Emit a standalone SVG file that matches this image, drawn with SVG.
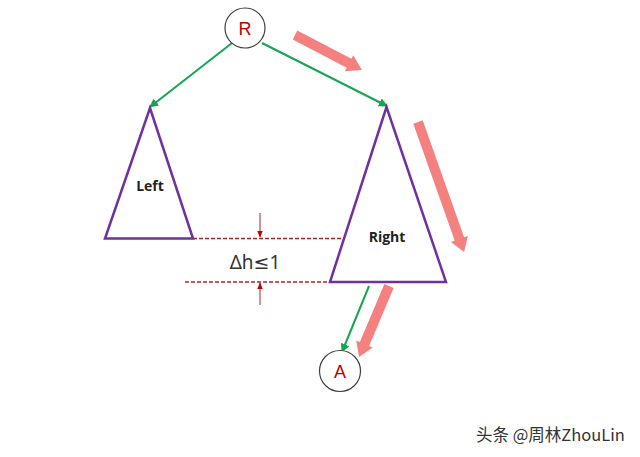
<svg xmlns="http://www.w3.org/2000/svg" width="640" height="457" viewBox="0 0 640 457">
<style>
.node-circle{fill:#fff;stroke:#404040;stroke-width:1.2}
.node-label{font-family:"Liberation Sans","Noto Sans",sans-serif;font-size:18px;fill:#C00000;text-anchor:middle}
.tri{fill:#fff;stroke:#7030A0;stroke-width:2.5;stroke-linejoin:miter}
.tri-label{font-family:"Open Sans","Liberation Sans",sans-serif;font-size:14px;font-weight:bold;fill:#222;text-anchor:middle}
.edge{stroke:#14A651;stroke-width:2;fill:none;marker-end:url(#g)}
.dash{stroke:#B0202A;stroke-width:1.3;stroke-dasharray:4 2;fill:none}
.mark{stroke:#B0202A;stroke-width:1;fill:none}
.pink{fill:#F4817F}
.dh{font-family:"Noto Sans","DejaVu Sans",sans-serif;font-size:19px;fill:#333;text-anchor:middle}
.wm{font-family:"Noto Sans CJK SC","Noto Sans",sans-serif;font-size:16.5px;fill:#333}
</style>
<defs>
<marker id="g" viewBox="0 0 10 10" refX="9" refY="5" markerWidth="4.5" markerHeight="4.5" orient="auto"><path d="M0,0 L10,5 L0,10 Z" fill="#14A651"/></marker>
<marker id="r" viewBox="0 0 10 10" refX="9" refY="5" markerWidth="7" markerHeight="7" orient="auto"><path d="M0,1 L10,5 L0,9 Z" fill="#C00000"/></marker>
</defs>
<rect width="640" height="457" fill="#fff"/>
<g id="connectors">
<line class="edge" x1="232" y1="43" x2="150" y2="107"/>
<line class="edge" x1="262" y1="43" x2="387" y2="106"/>
<line class="edge" x1="369" y1="286" x2="342" y2="352"/>
<line class="dash" x1="193" y1="238.5" x2="341" y2="238.5"/>
<line class="dash" x1="185" y1="282" x2="329" y2="282"/>
<line class="mark" x1="260" y1="213" x2="260" y2="237" marker-end="url(#r)"/>
<line class="mark" x1="260" y1="305" x2="260" y2="283" marker-end="url(#r)"/>
</g>
<g id="path-arrows">
<path class="pink" transform="translate(295,35) rotate(27.6)" d="M0,-5 L61,-5 L61,-9 L75.6,0 L61,9 L61,5 L0,5 Z"/>
<path class="pink" transform="translate(418,122) rotate(70.5)" d="M0,-5 L124,-5 L124,-9 L138,0 L124,9 L124,5 L0,5 Z"/>
<path class="pink" transform="translate(389,286) rotate(112.9)" d="M0,-5 L63,-5 L63,-9 L77,0 L63,9 L63,5 L0,5 Z"/>
</g>
<g id="node-R">
<circle class="node-circle" cx="245" cy="28" r="20"/>
<text class="node-label" x="245" y="34.5">R</text>
</g>
<g id="node-Left">
<polygon class="tri" points="150,108 105,238.5 193,238.5"/>
<text class="tri-label" x="150" y="191">Left</text>
</g>
<g id="node-Right">
<polygon class="tri" points="386.5,107 330,282 446,282"/>
<text class="tri-label" x="387" y="242">Right</text>
</g>
<g id="node-A">
<circle class="node-circle" cx="340" cy="371" r="20.5"/>
<text class="node-label" x="340" y="377.5">A</text>
</g>
<text class="dh" x="255" y="269">Δh≤1</text>
<text class="wm" x="476" y="441">头条 @周林ZhouLin</text>
</svg>
